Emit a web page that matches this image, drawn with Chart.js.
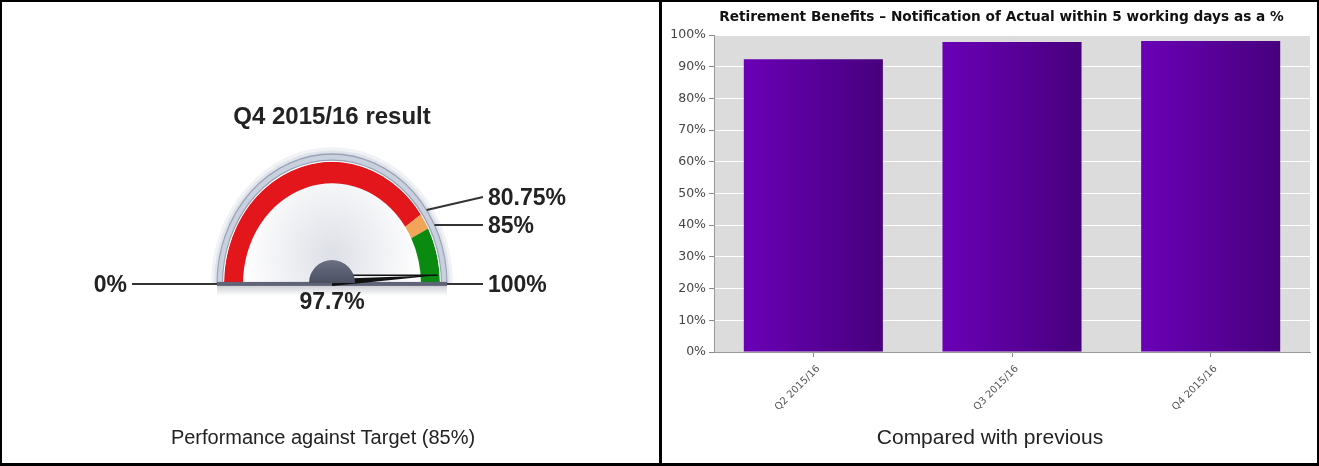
<!DOCTYPE html>
<html>
<head>
<meta charset="utf-8">
<script src="https://cdn.jsdelivr.net/npm/chart.js@4/dist/chart.umd.min.js"></script>
<style>
  body { margin: 0; background: #fff; }
  #wrap { position: relative; width: 1319px; height: 466px; overflow: hidden; background: #fff; }
  .box { position: absolute; top: 0; height: 466px; }
  .cap { position: absolute; top: 425px; height: 24px; line-height: 24px; text-align: center;
         font-family: 'Liberation Sans', Arial, sans-serif; font-size: 20px; color: #222; }
  .rule { position: absolute; background: #000; }
</style>
</head>
<body>
<div id="wrap">
  <div class="box" style="left:0;width:660px"><canvas id="gauge"></canvas></div>
  <div class="box" style="left:663px;width:654px"><canvas id="bars"></canvas></div>
  <div class="cap" style="left:0;width:646px">Performance against Target (85%)</div>
  <div class="cap" style="left:663px;width:654px;font-size:21px">Compared with previous</div>
  <!-- panel frame -->
  <div class="rule" style="left:0;top:0;width:1319px;height:2px"></div>
  <div class="rule" style="left:0;top:463px;width:1319px;height:3px"></div>
  <div class="rule" style="left:0;top:0;width:2px;height:466px"></div>
  <div class="rule" style="left:1317px;top:0;width:2px;height:466px"></div>
  <div class="rule" style="left:659px;top:0;width:3px;height:466px"></div>
</div>

<script>
// ---- Gauge data ----
var gaugeTitle = 'Q4 2015/16 result';
var gaugeValue = 97.7;
var bandLimits = [80.75, 85, 100];          // red up to 80.75, amber to 85, green to 100
var bandColors = ['#e3161c', '#f2a458', '#0b8a12'];
var gaugeMin = 0;
var gaugeMax = 100;

// ---- Bar chart data ----
var barTitle = 'Retirement Benefits \u2013 Notification of Actual within 5 working days as a %';
var quarterLabels = ['Q2 2015/16', 'Q3 2015/16', 'Q4 2015/16'];
var quarterValues = [92.4, 97.8, 98.1];
var yTickStep = 10;

// band sizes from the limits
var bandSizes = bandLimits.map(function(v, i) { return v - (i ? bandLimits[i - 1] : gaugeMin); });

function pct(v) { return String(v) + '%'; }

// ---------------- GAUGE ----------------
var labelFont = "bold 23px 'Liberation Sans', Arial, sans-serif";
var stretchY = 1.13;   // the original dial is a little taller than it is wide

var gaugeDecor = {
  id: 'gaugeDecor',
  beforeDatasetsDraw: function(chart) {
    var ctx = chart.ctx;
    var rim = chart.getDatasetMeta(0).data[0];
    var band = chart.getDatasetMeta(2).data[0];
    var cx = rim.x, cy = rim.y, R = rim.outerRadius, inner = band.innerRadius;
    ctx.save();
    // stretch the dial vertically round its centre (restored after datasets)
    ctx.translate(cx, cy);
    ctx.scale(1, stretchY);
    ctx.translate(-cx, -cy);
    // soft glow round the rim
    ctx.beginPath();
    ctx.arc(cx, cy, R + 6, Math.PI, 2 * Math.PI);
    ctx.closePath();
    ctx.fillStyle = 'rgba(150,160,185,0.14)';
    ctx.fill();
    ctx.beginPath();
    ctx.arc(cx, cy, R + 3, Math.PI, 2 * Math.PI);
    ctx.closePath();
    ctx.fillStyle = 'rgba(150,160,185,0.18)';
    ctx.fill();
    // gauge face
    var g = ctx.createRadialGradient(cx, cy - 25, 4, cx, cy - 25, inner);
    g.addColorStop(0, '#dfe1e8');
    g.addColorStop(1, '#ffffff');
    ctx.beginPath();
    ctx.arc(cx, cy, inner, Math.PI, 2 * Math.PI);
    ctx.closePath();
    ctx.fillStyle = g;
    ctx.fill();
  },
  afterDatasetsDraw: function(chart) {
    var ctx = chart.ctx;
    ctx.restore();  // undo the stretch
    var rim = chart.getDatasetMeta(0).data[0];
    var band = chart.getDatasetMeta(2).data[0];
    var cx = rim.x, cy = rim.y, R = rim.outerRadius;
    var span = gaugeMax - gaugeMin;
    function angleOf(v) { return Math.PI + (v - gaugeMin) / span * Math.PI; }

    ctx.save();
    // shadow under base + base bar
    var sg = ctx.createLinearGradient(0, cy, 0, cy + 12);
    sg.addColorStop(0, 'rgba(90,95,110,0.35)');
    sg.addColorStop(1, 'rgba(90,95,110,0)');
    ctx.fillStyle = sg;
    ctx.fillRect(cx - R, cy, 2 * R, 12);
    ctx.fillStyle = '#5f6577';
    ctx.fillRect(cx - R, cy - 2, 2 * R, 4);

    // needle
    var a = angleOf(gaugeValue);
    var tipR = band.outerRadius - 2;
    var tx = cx + Math.cos(a) * tipR, ty = cy + Math.sin(a) * tipR * stretchY;
    ctx.beginPath();
    ctx.moveTo(cx, cy - 5);
    ctx.lineTo(tx, ty);
    ctx.lineTo(cx, cy + 2);
    ctx.closePath();
    ctx.fillStyle = '#111';
    ctx.fill();
    ctx.strokeStyle = '#111';
    ctx.lineWidth = 1.5;
    ctx.beginPath();
    ctx.moveTo(cx, ty);
    ctx.lineTo(tx, ty);
    ctx.stroke();

    // hub
    var hg = ctx.createLinearGradient(0, cy - 23, 0, cy);
    hg.addColorStop(0, '#6a6f82');
    hg.addColorStop(1, '#484d5f');
    ctx.beginPath();
    ctx.arc(cx, cy - 1, 23, Math.PI, 2 * Math.PI);
    ctx.closePath();
    ctx.fillStyle = hg;
    ctx.fill();

    // value under the hub
    ctx.font = labelFont;
    ctx.fillStyle = '#222';
    ctx.textBaseline = 'middle';
    ctx.textAlign = 'center';
    ctx.fillText(pct(gaugeValue), cx, cy + 19);

    // leader lines and labels
    ctx.strokeStyle = '#333';
    ctx.lineWidth = 2;
    // min on the left
    ctx.beginPath();
    ctx.moveTo(cx - R, cy);
    ctx.lineTo(cx - 200, cy);
    ctx.stroke();
    ctx.textAlign = 'right';
    ctx.fillText(pct(gaugeMin), cx - 205, cy + 2);

    // band limits on the right, pushed apart if too close
    var lastY = null;
    ctx.textAlign = 'left';
    bandLimits.slice().reverse().forEach(function(v) {
      var ang = angleOf(v);
      var rx = cx + Math.cos(ang) * R, ry = cy + Math.sin(ang) * R * stretchY;
      var ly = ry;
      if (lastY !== null && lastY - ly < 28) ly = lastY - 28;
      lastY = ly;
      ctx.beginPath();
      ctx.moveTo(rx, ry);
      ctx.lineTo(cx + 151, ly);
      ctx.stroke();
      ctx.fillText(pct(v), cx + 156, ly + 2);
    });
    ctx.restore();
  }
};

new Chart(document.getElementById('gauge'), {
  type: 'doughnut',
  data: {
    labels: ['Red', 'Amber', 'Green'],
    datasets: [{
      data: [gaugeMax - gaugeMin],
      backgroundColor: '#c9d0de',
      borderColor: '#9aa2b6',
      borderWidth: 1.2,
      weight: 5.5
    }, {
      data: [gaugeMax - gaugeMin],
      backgroundColor: '#ffffff',
      borderWidth: 0,
      weight: 1.5
    }, {
      data: bandSizes,
      backgroundColor: bandColors,
      borderWidth: 0,
      weight: 19
    }]
  },
  options: {
    responsive: true,
    maintainAspectRatio: false,
    animation: false,
    events: [],
    rotation: -90,
    circumference: 180,
    radius: 115,
    cutout: '77.4%',
    layout: { padding: { left: 4, right: 0, top: 0, bottom: 145 } },
    plugins: {
      legend: { display: false },
      tooltip: { enabled: false },
      title: {
        display: true,
        text: gaugeTitle,
        color: '#222',
        font: { family: "'Liberation Sans', Arial, sans-serif", size: 24, weight: 'bold' },
        padding: { top: 103, bottom: 0 }
      }
    }
  },
  plugins: [gaugeDecor]
});

// ---------------- BAR CHART ----------------
var plotBackground = {
  id: 'plotBackground',
  // left padding only recentres the title; let the y labels use that room
  afterLayout: function(chart) {
    chart.scales.y.left = 0;
  },
  beforeDraw: function(chart) {
    var a = chart.chartArea;
    var ctx = chart.ctx;
    ctx.save();
    ctx.fillStyle = '#dcdcdc';
    ctx.fillRect(a.left, a.top, a.width, a.height);
    ctx.restore();
  }
};

function barFill(context) {
  var chart = context.chart;
  var area = chart.chartArea;
  if (!area) return '#5a009c';
  var x = chart.scales.x.getPixelForValue(context.dataIndex);
  var half = area.width / quarterLabels.length * 0.7 / 2;
  var g = chart.ctx.createLinearGradient(x - half, 0, x + half, 0);
  g.addColorStop(0, '#6a00b6');
  g.addColorStop(1, '#47007d');
  return g;
}

new Chart(document.getElementById('bars'), {
  type: 'bar',
  data: {
    labels: quarterLabels,
    datasets: [{
      data: quarterValues,
      backgroundColor: barFill,
      borderWidth: 0,
      barPercentage: 0.7,
      categoryPercentage: 1
    }]
  },
  options: {
    responsive: true,
    maintainAspectRatio: false,
    animation: false,
    events: [],
    layout: { padding: { left: 30, right: 7, top: 0, bottom: 0 } },
    plugins: {
      legend: { display: false },
      tooltip: { enabled: false },
      title: {
        display: true,
        text: barTitle,
        color: '#111',
        font: { family: "'DejaVu Sans', Verdana, sans-serif", size: 13.7, weight: 'bold' },
        padding: { top: 9, bottom: 9.6 }
      }
    },
    scales: {
      x: {
        grid: { offset: false, drawOnChartArea: false, tickLength: 5, tickColor: '#888' },
        border: { color: '#999' },
        ticks: {
          minRotation: 45, maxRotation: 45,
          labelOffset: 5,
          padding: 6,
          color: '#555',
          font: { family: "'DejaVu Sans', Verdana, sans-serif", size: 10 }
        },
        afterFit: function(scale) { scale.height = 114; }
      },
      y: {
        min: 0,
        max: 100,
        grid: { color: '#ffffff', tickColor: '#888', tickLength: 5 },
        border: { color: '#999' },
        ticks: {
          stepSize: yTickStep,
          color: '#444',
          font: { family: "'DejaVu Sans', Verdana, sans-serif", size: 12.5 },
          callback: function(v) { return pct(v); }
        },
        afterFit: function(scale) { scale.width = 21; }
      }
    }
  },
  plugins: [plotBackground]
});
</script>
</body>
</html>
